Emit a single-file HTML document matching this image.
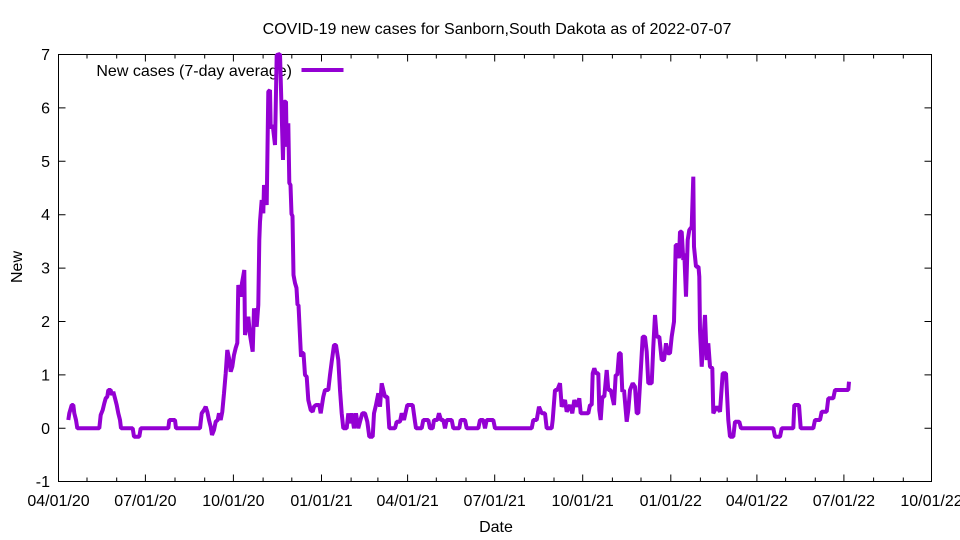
<!DOCTYPE html>
<html><head><meta charset="utf-8"><style>
html,body{margin:0;padding:0;background:#fff;}
svg{display:block;}
text{font-family:"Liberation Sans",Arial,sans-serif;font-size:16px;fill:#000;}
</style></head><body>
<svg width="960" height="540" viewBox="0 0 960 540" xmlns="http://www.w3.org/2000/svg">
<rect width="960" height="540" fill="#fff"/>
<text x="497" y="34" text-anchor="middle">COVID-19 new cases for Sanborn,South Dakota as of 2022-07-07</text>
<g stroke="#000" stroke-width="1" fill="none">
<rect x="58.5" y="54.5" width="873" height="427"/>
<path d="M58.5 54.5h7M58.5 107.9h7M58.5 161.3h7M58.5 214.7h7M58.5 268.1h7M58.5 321.5h7M58.5 374.9h7M58.5 428.3h7
M931.5 54.5h-7M931.5 107.9h-7M931.5 161.3h-7M931.5 214.7h-7M931.5 268.1h-7M931.5 321.5h-7M931.5 374.9h-7M931.5 428.3h-7"/>
<path d="M145.4 481.5v-7M233.4 481.5v-7M321.5 481.5v-7M407.6 481.5v-7M494.7 481.5v-7M582.7 481.5v-7M670.8 481.5v-7M756.9 481.5v-7M843.9 481.5v-7
M145.4 54.5v7M233.4 54.5v7M321.5 54.5v7M407.6 54.5v7M494.7 54.5v7M582.7 54.5v7M670.8 54.5v7M756.9 54.5v7M843.9 54.5v7"/>
<path d="M87 481.5v-4M116.7 481.5v-4M175 481.5v-4M204.7 481.5v-4M263.1 481.5v-4M291.8 481.5v-4M351.1 481.5v-4M377.9 481.5v-4M436.3 481.5v-4M466 481.5v-4M524.4 481.5v-4M554 481.5v-4M612.4 481.5v-4M641 481.5v-4M700.4 481.5v-4M727.2 481.5v-4M785.6 481.5v-4M815.3 481.5v-4M873.6 481.5v-4M903.3 481.5v-4
M87 54.5v4M116.7 54.5v4M175 54.5v4M204.7 54.5v4M263.1 54.5v4M291.8 54.5v4M351.1 54.5v4M377.9 54.5v4M436.3 54.5v4M466 54.5v4M524.4 54.5v4M554 54.5v4M612.4 54.5v4M641 54.5v4M700.4 54.5v4M727.2 54.5v4M785.6 54.5v4M815.3 54.5v4M873.6 54.5v4M903.3 54.5v4"/>
</g>
<g text-anchor="end">
<text x="50" y="60">7</text>
<text x="50" y="113.4">6</text>
<text x="50" y="166.8">5</text>
<text x="50" y="220.2">4</text>
<text x="50" y="273.6">3</text>
<text x="50" y="327">2</text>
<text x="50" y="380.4">1</text>
<text x="50" y="433.8">0</text>
<text x="50" y="487.2">-1</text>
</g>
<g text-anchor="middle">
<text x="58.5" y="506">04/01/20</text>
<text x="145.4" y="506">07/01/20</text>
<text x="233.4" y="506">10/01/20</text>
<text x="321.5" y="506">01/01/21</text>
<text x="407.6" y="506">04/01/21</text>
<text x="494.7" y="506">07/01/21</text>
<text x="582.7" y="506">10/01/21</text>
<text x="670.8" y="506">01/01/22</text>
<text x="756.9" y="506">04/01/22</text>
<text x="843.9" y="506">07/01/22</text>
<text x="931.5" y="506">10/01/22</text>
<text x="496" y="532">Date</text>
<text x="0" y="0" transform="translate(22,267) rotate(-90)">New</text>
</g>
<text x="292" y="76" text-anchor="end">New cases (7-day average)</text>
<line x1="301.5" y1="70" x2="343.5" y2="70" stroke="#9400d3" stroke-width="4"/>
<polyline fill="none" stroke="#9400d3" stroke-width="4" stroke-linejoin="bevel" points="
68.3,420 69.3,413.3 71.7,405 73.3,405 74.3,413.3 76,420 77.3,428.3 99.3,428.3 100.7,415 102.7,410 104.3,403.3 105.7,398.3 107.3,396.7 108.3,390 110.7,390 111.7,395 113.3,391.7 115,398.3 116.7,405 118.3,413.3 120,420 121,428.3 132.7,428.3 134,436.7 139.3,436.7 140.7,428.3 168.3,428.3 169.3,420 175,420 176,428.3 200,428.3 201.7,413.3 204,410 205.7,406.7 207.3,411.7 209,420 210.7,426.7 212,435 214,430 215.7,421.7 217.7,420 219,413.3 220.7,420 222.3,411.7 224,393.3 225.7,373.3 227.3,350 229,358 230.7,371.7 232.3,366.7 234,355 235.7,348 237.3,343 238.3,285 240.7,296.7 242,283 244.3,270 245,335 248.3,316.7 250,335 252.7,351.7 254,308.3 256.7,326.7 258.3,305 259.3,240 260,221.7 261.7,200 263.3,213.3 264,185 266.7,205 268.3,91.7 270,90 270.7,128.3 272.7,125 275,145 276.7,55 280,54 283,160 284,101.7 286,101.7 286.7,146.7 288.3,123.3 289.3,183 290.5,185 291.5,214 292.5,216 293.5,275 295,283 296.5,288 297.5,305 298.5,305 301,356.7 302.5,353 303.5,353 305,375 306.7,376.7 308.3,400 310.7,410 312.7,411.7 314,406.7 316,405 319.3,405 320.7,413.3 323.3,396.7 325,390 328.3,390 330,375 331.7,361.7 334,345 336,345 338.3,360 340,390 341.7,413.3 343.3,428.3 346.7,428.3 348.3,413.3 350,423.3 351.7,413.3 354,428.3 356,413.3 358.3,428.3 360,421.7 362.3,413.3 365,413.3 367.3,421.7 369.3,436.7 372.7,436.7 374,413.3 376,405 378.3,393.3 380,406.7 381.7,383.3 383.3,390 385,396.7 387.3,396.7 389.3,428.3 395,428.3 396.7,421.7 400,421.7 401.7,413.3 404,420 407.3,405 412.7,405 415,421.7 416,428.3 421.7,428.3 423.3,420 428.3,420 430,428.3 432.7,428.3 434,420 437.3,420 439,413.3 441,420 443.3,420 445,428.3 446.7,420 451.7,420 453.3,428.3 459.3,428.3 460.7,420 465,420 466.7,428.3 478.3,428.3 480,420 483.3,420 485,428.3 486.7,420 493.3,420 495,428.3 531.7,428.3 533.3,420 536.7,420 539,406.7 541.7,413.3 545,413.3 546.7,428.3 551.7,428.3 552.7,420 555,390 557.3,390 560,383.3 561.7,406.7 565,400 566.7,411.7 570,405 572.3,413.3 574.3,400 576.7,406.7 579.3,398.3 580.7,413.3 588.3,413.3 590,405 591.7,405 592.7,373.3 594.3,368.3 596,373.3 598.3,373.3 599.3,410 600.7,420 602.3,396.7 604.3,396.7 606.7,370 608.3,390 610.7,390 614,405 615.7,375 617.3,375 619,353.3 620.7,353.3 622.3,391.7 624,390 626.7,421.7 628.3,410 630,390 632.7,383.3 635,386.7 636.7,413.3 638.3,413.3 641,366.7 642.7,336.7 645,336.7 646.7,351.7 648.3,383.3 651.7,383.3 653.3,346.7 655,315 656.7,336.7 659.3,336.7 661.7,360 664,360 666,343.3 667.7,353.3 670,353.3 671.7,336.7 674,321.7 675.7,245 677.3,245 679,258.3 680,231.7 681.7,231.7 683.3,260 684.3,253.3 686,296.7 687.7,240 689.3,230 691.7,226.7 693.3,176.7 694,246.7 696,266.7 698.5,266.7 699.3,276.7 700,330 701.7,366.7 705,315 706.7,360 708.3,343.3 710,366.7 712.3,368 713.3,413.3 716.7,406.7 720,411.7 722.7,373.3 726,373.3 728.3,420 730,436.7 733.3,436.7 735,421.7 739.3,421.7 741,428.3 773.3,428.3 775,436.7 780,436.7 781.7,428.3 793.3,428.3 794.3,405 799,405 800.7,428.3 813.3,428.3 815,420 820,420 821.7,411.7 826.7,411.7 828.3,398.3 833.3,398.3 835,390 848.3,390 849,381.7"/>
</svg>
</body></html>
